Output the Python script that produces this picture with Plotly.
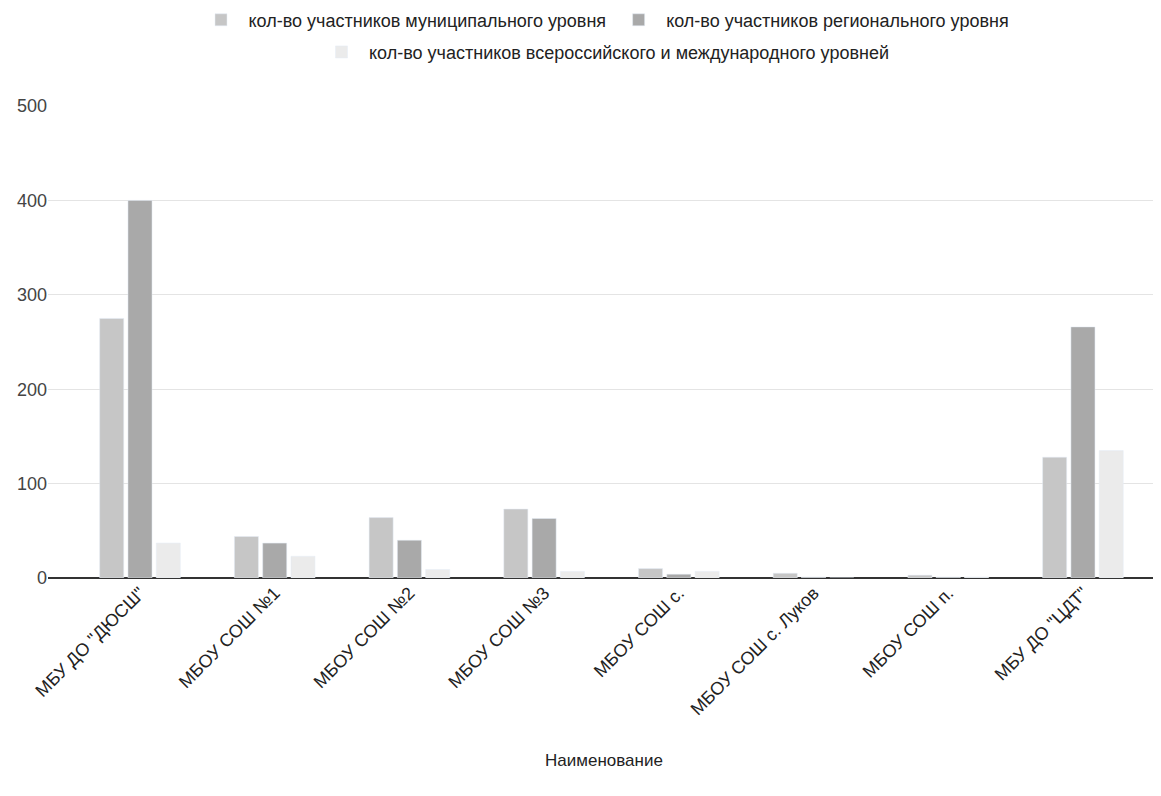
import plotly.graph_objects as go

categories = ['МБУ ДО "ДЮСШ"', 'МБОУ СОШ №1', 'МБОУ СОШ №2', 'МБОУ СОШ №3',
              'МБОУ СОШ с.', 'МБОУ СОШ с. Луков', 'МБОУ СОШ п.', 'МБУ ДО "ЦДТ"']
municipal = [275, 44, 64, 73, 10, 5, 3, 128]
regional = [400, 37, 40, 63, 4, 1, 1, 266]
national = [37, 23, 9, 7, 7, 0, 1, 135]

names = ["кол-во участников муниципального уровня",
         "кол-во участников регионального уровня",
         "кол-во участников всероссийского и международного уровней"]
colors = ["#c6c6c6", "#a9a9a9", "#ebebeb"]

fig = go.Figure()
fig.add_trace(go.Bar(x=categories, y=municipal, name=names[0], marker_color=colors[0], legend="legend"))
fig.add_trace(go.Bar(x=categories, y=regional, name=names[1], marker_color=colors[1], legend="legend"))
fig.add_trace(go.Bar(x=categories, y=national, name=names[2], marker_color=colors[2], legend="legend2"))

font_family = "Liberation Sans, Arial, sans-serif"
fig.update_layout(
    width=1161, height=796,
    margin=dict(l=40, r=9, t=98, b=226, autoexpand=False),
    paper_bgcolor="white", plot_bgcolor="white",
    font=dict(family=font_family, size=18, color="#222"),
    barmode="group", bargap=0.37, bargroupgap=0.15,
    legend=dict(orientation="h", x=0.5, xanchor="center", y=1.182, yanchor="middle",
                font=dict(size=18, color="#222"), itemwidth=45),
    legend2=dict(orientation="h", x=0.5, xanchor="center", y=1.114, yanchor="middle",
                 font=dict(size=18, color="#222"), itemwidth=45),
    xaxis=dict(type="category", range=[-0.683, 7.572], tickangle=-45,
               tickfont=dict(size=18, color="#222"), showgrid=False, showline=False,
               ticks="", automargin=False,
               title=dict(text="Наименование", font=dict(size=17, color="#222"), standoff=35)),
    yaxis=dict(range=[0, 500], dtick=100, showgrid=True, gridcolor="#e4e4e4", gridwidth=1,
               zeroline=True, zerolinecolor="#333", zerolinewidth=1.5,
               tickfont=dict(size=18, color="#444"), ticks="", automargin=False),
)

fig.write_html("out.html")
